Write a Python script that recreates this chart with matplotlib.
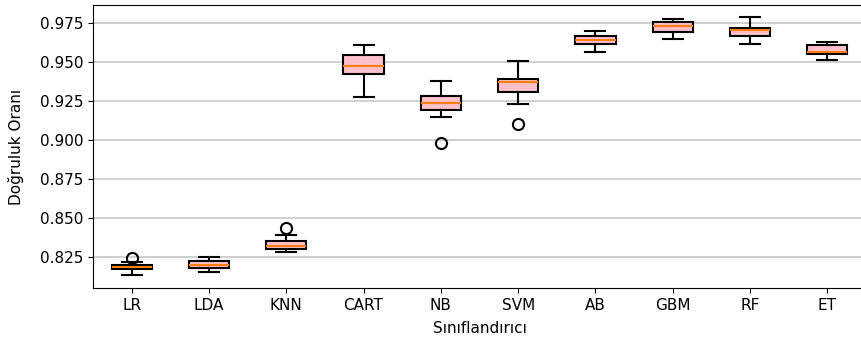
import matplotlib
matplotlib.use("Agg")
import matplotlib.pyplot as plt

# Classifier names and cross-validation accuracy summaries
classifiers = ["LR", "LDA", "KNN", "CART", "NB", "SVM", "AB", "GBM", "RF", "ET"]
whisker_low = [0.8135, 0.8154, 0.8284, 0.9278, 0.9146, 0.9229, 0.9566, 0.9645, 0.9613, 0.9513]
q1 = [0.8170, 0.8177, 0.8301, 0.9421, 0.9192, 0.9310, 0.9613, 0.9694, 0.9669, 0.9551]
median = [0.8186, 0.8199, 0.8323, 0.9476, 0.9239, 0.9370, 0.9641, 0.9733, 0.9705, 0.9562]
q3 = [0.8199, 0.8224, 0.8353, 0.9545, 0.9284, 0.9393, 0.9667, 0.9754, 0.9720, 0.9609]
whisker_high = [0.8215, 0.8248, 0.8391, 0.9609, 0.9380, 0.9506, 0.9701, 0.9776, 0.9786, 0.9626]
outliers = [[0.8242], [], [0.8434], [], [0.8983], [0.9103], [], [], [], []]

stats = []
for i, name in enumerate(classifiers):
    stats.append(dict(label=name, whislo=whisker_low[i], q1=q1[i], med=median[i],
                      q3=q3[i], whishi=whisker_high[i], fliers=outliers[i]))

fig = plt.figure(figsize=(8.61, 3.44), dpi=100)
ax = fig.add_axes([93 / 861, 1 - 288 / 344, 773 / 861, 283 / 344])

ax.bxp(stats, patch_artist=True, widths=0.52,
       boxprops=dict(facecolor="pink", edgecolor="black", linewidth=1.5),
       medianprops=dict(color="#ff7f0e", linewidth=1.5),
       whiskerprops=dict(color="black", linewidth=1.5),
       capprops=dict(color="black", linewidth=1.5),
       flierprops=dict(marker="o", markerfacecolor="none", markeredgecolor="black",
                       markersize=8, markeredgewidth=1.5))

ax.set_xlim(0.5, 10.5)
ax.set_ylim(0.8051, 0.9865)
ax.set_yticks([0.825, 0.850, 0.875, 0.900, 0.925, 0.950, 0.975])
ax.yaxis.grid(True, color="#c8c8c8", linewidth=1.2)
ax.set_axisbelow(True)
ax.tick_params(labelsize=11)
ax.set_xlabel("Sınıflandırıcı", fontsize=11, labelpad=6)
ax.set_ylabel("Doğruluk Oranı", fontsize=11, labelpad=11)

fig.savefig("out.png", dpi=100)
